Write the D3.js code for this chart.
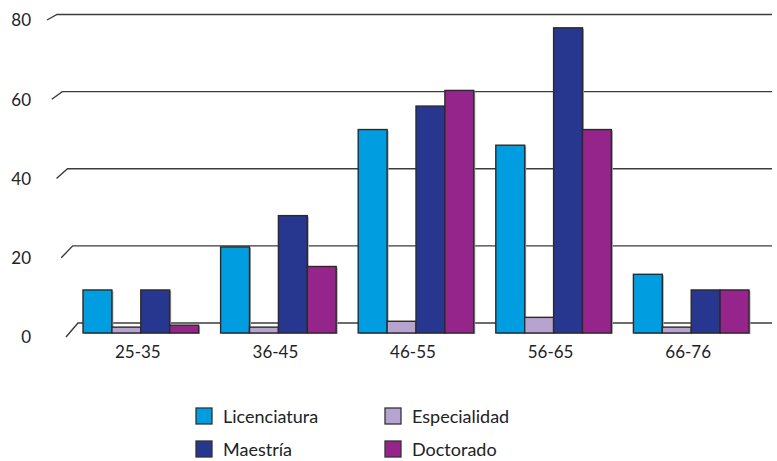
<!DOCTYPE html>
<html>
<head>
<meta charset="utf-8">
<script src="https://cdn.jsdelivr.net/npm/d3@7"></script>
<style>
  body { margin: 0; background: #fff; }
  text { font-family: Lato, "Open Sans", sans-serif; fill: #222; }
</style>
</head>
<body>
<div id="chart"></div>
<script>
// age groups and series
let groups = ["25-35", "36-45", "46-55", "56-65", "66-76"];
let seriesNames = ["Licenciatura", "Especialidad", "Maestría", "Doctorado"];
let colors = ["#009ee0", "#b7a3d0", "#27378f", "#96258b"];

let licenciatura = [11, 22, 52, 48, 15];
let especialidad = [1.5, 1.5, 3, 4, 1.5];
let maestria = [11, 30, 58, 78, 11];
let doctorado = [2, 17, 62, 52, 11];

let yTicks = [0, 20, 40, 60, 80];

let series = [licenciatura, especialidad, maestria, doctorado];

let svg = d3.select("#chart").append("svg")
  .attr("width", 777)
  .attr("height", 461);

// bars scale (front plane)
let yBar = d3.scaleLinear().domain([0, 80]).range([333, 20]);
// gridlines: back wall and front edge, slightly skewed
let yBack = d3.scaleLinear().domain([0, 80]).range([323, 14.5]);
let yFront = d3.scaleLinear().domain([0, 80]).range([337, 20]);
let xBack = d3.scaleLinear().domain([0, 80]).range([78, 57]);
let xFront = d3.scaleLinear().domain([0, 80]).range([66, 47]);

let x0 = d3.scaleBand().domain(groups).range([72, 760]).paddingInner(0.16).paddingOuter(0.08);
let x1 = d3.scaleBand().domain(d3.range(4)).range([0, x0.bandwidth()]);

// gridlines
svg.selectAll("path.grid")
  .data(yTicks)
  .enter()
  .append("path")
  .attr("class", "grid")
  .attr("d", d => "M" + xFront(d) + "," + yFront(d) + "L" + xBack(d) + "," + yBack(d) + "L772," + yBack(d))
  .style("fill", "none")
  .style("stroke", "#3c3c3c")
  .style("stroke-width", 1.4);

// y labels
svg.selectAll("text.ylab")
  .data(yTicks)
  .enter()
  .append("text")
  .attr("class", "ylab")
  .attr("x", 31)
  .attr("y", d => yFront(d) + 2)
  .attr("text-anchor", "end")
  .attr("dominant-baseline", "middle")
  .style("font-size", "17px")
  .text(d => d);

// bars
let barData = [];
groups.forEach((g, i) => {
  series.forEach((s, j) => {
    barData.push({ group: g, k: j, value: s[i] });
  });
});

svg.selectAll("rect.shadow")
  .data(barData)
  .enter()
  .append("rect")
  .attr("class", "shadow")
  .attr("x", d => x0(d.group) + x1(d.k) + 1.5)
  .attr("y", d => yBar(d.value) + 1)
  .attr("width", x1.bandwidth())
  .attr("height", d => yBar(0) - yBar(d.value))
  .style("fill", "#aaa");

svg.selectAll("rect.bar")
  .data(barData)
  .enter()
  .append("rect")
  .attr("class", "bar")
  .attr("x", d => x0(d.group) + x1(d.k))
  .attr("y", d => yBar(d.value))
  .attr("width", x1.bandwidth())
  .attr("height", d => yBar(0) - yBar(d.value))
  .style("fill", d => colors[d.k])
  .style("stroke", "#2a2a2a")
  .style("stroke-width", 1.4);

// x labels
svg.selectAll("text.xlab")
  .data(groups)
  .enter()
  .append("text")
  .attr("class", "xlab")
  .attr("x", d => x0(d) + x0.bandwidth() / 2 - 3)
  .attr("y", 358)
  .attr("text-anchor", "middle")
  .style("font-size", "17px")
  .text(d => d);

// legend
let legX = [196, 385];
let legY = [408, 441];
let legend = svg.selectAll("g.leg")
  .data(seriesNames)
  .enter()
  .append("g")
  .attr("class", "leg")
  .attr("transform", (d, i) => "translate(" + legX[i % 2] + "," + legY[Math.floor(i / 2)] + ")");

legend.append("rect")
  .attr("width", 16)
  .attr("height", 16)
  .style("fill", (d, i) => colors[i])
  .style("stroke", "#333")
  .style("stroke-width", 1.3);

legend.append("text")
  .attr("x", 27)
  .attr("y", 15)
  .style("font-size", "18px")
  .text(d => d);
</script>
</body>
</html>
